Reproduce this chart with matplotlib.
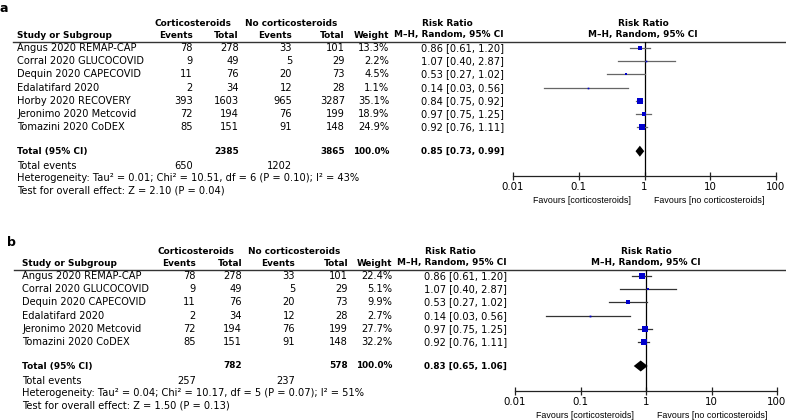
import numpy as np
import matplotlib
matplotlib.use('Agg')
import matplotlib.pyplot as plt

# data, panel a (all trials)
studies_a = ['Angus 2020 REMAP-CAP', 'Corral 2020 GLUCOCOVID', 'Dequin 2020 CAPECOVID',
             'Edalatifard 2020', 'Horby 2020 RECOVERY', 'Jeronimo 2020 Metcovid',
             'Tomazini 2020 CoDEX']
ev_cs_a = [78, 9, 11, 2, 393, 72, 85]
tot_cs_a = [278, 49, 76, 34, 1603, 194, 151]
ev_no_a = [33, 5, 20, 12, 965, 76, 91]
tot_no_a = [101, 29, 73, 28, 3287, 199, 148]
weight_a = [13.3, 2.2, 4.5, 1.1, 35.1, 18.9, 24.9]
rr_a = [0.86, 1.07, 0.53, 0.14, 0.84, 0.97, 0.92]
lo_a = [0.61, 0.40, 0.27, 0.03, 0.75, 0.75, 0.76]
hi_a = [1.20, 2.87, 1.02, 0.56, 0.92, 1.25, 1.11]
pooled_a = [0.85, 0.73, 0.99]
het_a = 'Heterogeneity: Tau² = 0.01; Chi² = 10.51, df = 6 (P = 0.10); I² = 43%'
z_a = 'Test for overall effect: Z = 2.10 (P = 0.04)'

# data, panel b (without RECOVERY)
studies_b = ['Angus 2020 REMAP-CAP', 'Corral 2020 GLUCOCOVID', 'Dequin 2020 CAPECOVID',
             'Edalatifard 2020', 'Jeronimo 2020 Metcovid', 'Tomazini 2020 CoDEX']
ev_cs_b = [78, 9, 11, 2, 72, 85]
tot_cs_b = [278, 49, 76, 34, 194, 151]
ev_no_b = [33, 5, 20, 12, 76, 91]
tot_no_b = [101, 29, 73, 28, 199, 148]
weight_b = [22.4, 5.1, 9.9, 2.7, 27.7, 32.2]
rr_b = [0.86, 1.07, 0.53, 0.14, 0.97, 0.92]
lo_b = [0.61, 0.40, 0.27, 0.03, 0.75, 0.76]
hi_b = [1.20, 2.87, 1.02, 0.56, 1.25, 1.11]
pooled_b = [0.83, 0.65, 1.06]
het_b = 'Heterogeneity: Tau² = 0.04; Chi² = 10.17, df = 5 (P = 0.07); I² = 51%'
z_b = 'Test for overall effect: Z = 1.50 (P = 0.13)'

ticks = [0.01, 0.1, 1, 10, 100]
tick_labels = ['0.01', '0.1', '1', '10', '100']

W, H = 786, 420
FS = 7.1
FSB = 6.4   # bold DejaVu runs wide, so a bit smaller
plt.rcParams['font.family'] = ['DejaVu Sans']

fig = plt.figure(figsize=(W / 100, H / 100), dpi=100)
ax = fig.add_axes([0, 0, 1, 1])
ax.set_xlim(0, W)
ax.set_ylim(H, 0)
ax.axis('off')


def txt(x, y, s, ha='left', bold=False, **kw):
    ax.text(x, y, s, ha=ha, va='center', fontsize=kw.pop('fs', FSB if bold else FS),
            fontweight='bold' if bold else 'normal', **kw)


def panel(label, lab_x, lab_y, top, dx, name_x, studies, ev_cs, tot_cs, ev_no, tot_no,
          weight, rr, lo, hi, pooled, het, zt, line_col):
    # column positions (right edges)
    c_ev1, c_tot1, c_ev2, c_tot2, c_w, c_rr = [v + dx for v in (193, 239, 292, 345, 389, 504)]
    txt(lab_x, lab_y, label, bold=True, fs=9)
    h1, h2 = top + 23, top + 35
    line_y = top + 41.5
    txt(193 + dx, h1, 'Corticosteroids', ha='center', bold=True)
    txt(291 + dx, h1, 'No corticosteroids', ha='center', bold=True)
    txt(447 + dx, h1, 'Risk Ratio', ha='center', bold=True)
    txt(643 + dx, h1, 'Risk Ratio', ha='center', bold=True)
    txt(name_x, h2, 'Study or Subgroup', bold=True)
    txt(c_ev1, h2, 'Events', ha='right', bold=True)
    txt(c_tot1, h2, 'Total', ha='right', bold=True)
    txt(c_ev2, h2, 'Events', ha='right', bold=True)
    txt(c_tot2, h2, 'Total', ha='right', bold=True)
    txt(c_w, h2, 'Weight', ha='right', bold=True)
    txt(c_rr, h2, 'M–H, Random, 95% CI', ha='right', bold=True)
    txt(643 + dx, h2, 'M–H, Random, 95% CI', ha='center', bold=True)
    ax.plot([13 + dx / 3, 785], [line_y, line_y], color='#333333', lw=1.0)

    ys = [top + 48 + 13.2 * i for i in range(len(studies))]
    for i, y in enumerate(ys):
        txt(name_x, y, studies[i])
        txt(c_ev1, y, str(ev_cs[i]), ha='right')
        txt(c_tot1, y, str(tot_cs[i]), ha='right')
        txt(c_ev2, y, str(ev_no[i]), ha='right')
        txt(c_tot2, y, str(tot_no[i]), ha='right')
        txt(c_w, y, f'{weight[i]:.1f}%', ha='right')
        txt(c_rr, y, f'{rr[i]:.2f} [{lo[i]:.2f}, {hi[i]:.2f}]', ha='right')

    y_tot = ys[-1] + 24
    txt(name_x, y_tot, 'Total (95% CI)', bold=True)
    txt(c_tot1, y_tot, str(sum(tot_cs)), ha='right', bold=True)
    txt(c_tot2, y_tot, str(sum(tot_no)), ha='right', bold=True)
    txt(c_w, y_tot, f'{sum(weight):.1f}%', ha='right', bold=True)
    txt(c_rr, y_tot, f'{pooled[0]:.2f} [{pooled[1]:.2f}, {pooled[2]:.2f}]', ha='right', bold=True)
    txt(name_x, y_tot + 15, 'Total events')
    txt(c_ev1, y_tot + 15, str(sum(ev_cs)), ha='right')
    txt(c_ev2, y_tot + 15, str(sum(ev_no)), ha='right')
    txt(name_x, y_tot + 27, het)
    txt(name_x, y_tot + 39, zt)

    # forest plot axes, y in pixel units of the figure
    axis_y = y_tot + 25
    x0, x1 = 513 + dx / 1.5, 776 + dx / 3
    fa = fig.add_axes([x0 / W, 1 - axis_y / H, (x1 - x0) / W, (axis_y - line_y) / H])
    fa.patch.set_alpha(0)
    fa.set_xscale('log')
    fa.set_xlim(0.01, 100)
    fa.set_ylim(axis_y, line_y)
    for s in ('top', 'right', 'left'):
        fa.spines[s].set_visible(False)
    fa.spines['bottom'].set_linewidth(0.9)
    fa.spines['bottom'].set_color('#222222')
    fa.set_yticks([])
    fa.set_xticks(ticks)
    fa.set_xticklabels(tick_labels)
    fa.minorticks_off()
    fa.tick_params(axis='x', direction='inout', length=6, width=0.9, pad=1,
                   labelsize=FS + 0.3, colors='#222222')
    for t in fa.get_xticklabels():
        t.set_color('black')
    fa.axvline(1, color='black', lw=0.9)

    for i, y in enumerate(ys):
        fa.plot([lo[i], hi[i]], [y, y], color=line_col, lw=0.9, zorder=2)
        ms = max(0.78 * np.sqrt(weight[i]), 1.2)
        fa.plot(rr[i], y, marker='s', ms=ms, color='#0000cc', mec='#0000cc', mew=0, zorder=3)

    # pooled diamond
    p, pl, ph = pooled
    fa.fill([pl, p, ph, p], [y_tot, y_tot - 5.5, y_tot, y_tot + 5.5], color='black',
            lw=0, zorder=4)

    fav_y = axis_y + 24
    txt(582 + dx, fav_y, 'Favours [corticosteroids]', ha='center', fs=6.4,
        family='Liberation Sans')
    txt(709 + dx, fav_y, 'Favours [no corticosteroids]', ha='center', fs=6.4,
        family='Liberation Sans')


panel('a', 0, 8, 0, 0, 17, studies_a, ev_cs_a, tot_cs_a, ev_no_a, tot_no_a,
      weight_a, rr_a, lo_a, hi_a, pooled_a, het_a, z_a, '#666666')
panel('b', 7, 243, 228, 3, 22, studies_b, ev_cs_b, tot_cs_b, ev_no_b, tot_no_b,
      weight_b, rr_b, lo_b, hi_b, pooled_b, het_b, z_b, '#333333')

fig.savefig('out.png', dpi=100)
